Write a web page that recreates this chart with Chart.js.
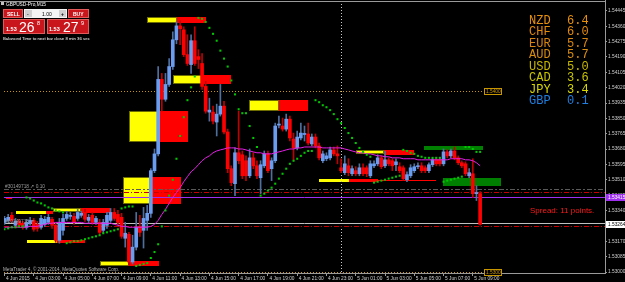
<!DOCTYPE html>
<html>
<head>
<meta charset="utf-8">
<script src="https://cdn.jsdelivr.net/npm/chart.js@4.4.1/dist/chart.umd.min.js"></script>
<style>
html, body { margin: 0; padding: 0; background: #000; overflow: hidden; }
</style>
</head>
<body>
<canvas id="chart-1" width="625" height="282" style="width:625px;height:282px"></canvas>
<script>
//////////////////////////////////////////////// data: GBPUSD M15, 4 Jun 01:00 .. 5 Jun 09:30
const opens = [
    1.53275, 1.53286, 1.53314, 1.53259, 1.53281, 1.53270, 1.53248, 1.53270, 1.53286, 1.53264,
    1.53248, 1.53264, 1.53275, 1.53292, 1.53259, 1.53176, 1.53231, 1.53297, 1.53308, 1.53308,
    1.53297, 1.53314, 1.53330, 1.53286, 1.53314, 1.53275, 1.53275, 1.53231, 1.53259, 1.53286,
    1.53330, 1.53319, 1.53303, 1.53187, 1.53209, 1.53056, 1.53138, 1.53253, 1.53231, 1.53286,
    1.53325, 1.53561, 1.53654, 1.54066, 1.53956, 1.54038, 1.54137, 1.54285, 1.54362, 1.54340,
    1.54203, 1.54148, 1.54280, 1.54192, 1.54154, 1.54027, 1.53885, 1.53885, 1.53830, 1.53874,
    1.53918, 1.53775, 1.53572, 1.53489, 1.53660, 1.53649, 1.53616, 1.53533, 1.53632, 1.53588,
    1.53522, 1.53588, 1.53654, 1.53572, 1.53616, 1.53813, 1.53808, 1.53791, 1.53846, 1.53736,
    1.53687, 1.53742, 1.53761, 1.53764, 1.53709, 1.53747, 1.53698, 1.53616, 1.53627, 1.53632,
    1.53676, 1.53654, 1.53577, 1.53550, 1.53588, 1.53544, 1.53561, 1.53544, 1.53577, 1.53577,
    1.53533, 1.53588, 1.53599, 1.53632, 1.53588, 1.53621, 1.53616, 1.53594, 1.53583, 1.53577,
    1.53511, 1.53533, 1.53561, 1.53583, 1.53588, 1.53577, 1.53561, 1.53594, 1.53621, 1.53621,
    1.53599, 1.53665, 1.53643, 1.53670, 1.53632, 1.53605, 1.53599, 1.53533, 1.53544, 1.53434,
    1.53434
]
const highs = [
    1.53308, 1.53319, 1.53330, 1.53297, 1.53292, 1.53281, 1.53292, 1.53303, 1.53297, 1.53281,
    1.53314, 1.53308, 1.53319, 1.53303, 1.53270, 1.53297, 1.53319, 1.53336, 1.53330, 1.53325,
    1.53347, 1.53336, 1.53347, 1.53319, 1.53330, 1.53308, 1.53292, 1.53292, 1.53330, 1.53352,
    1.53352, 1.53341, 1.53325, 1.53275, 1.53220, 1.53204, 1.53330, 1.53314, 1.53358, 1.53369,
    1.53572, 1.53681, 1.54137, 1.54099, 1.54099, 1.54181, 1.54329, 1.54384, 1.54390, 1.54357,
    1.54313, 1.54313, 1.54357, 1.54230, 1.54209, 1.54055, 1.53962, 1.53918, 1.53929, 1.54038,
    1.53945, 1.53791, 1.53588, 1.53687, 1.53890, 1.53670, 1.53643, 1.53681, 1.53660, 1.53616,
    1.53616, 1.53670, 1.53670, 1.53632, 1.53824, 1.53863, 1.53852, 1.53874, 1.53863, 1.53769,
    1.53780, 1.53824, 1.53808, 1.53824, 1.53764, 1.53764, 1.53714, 1.53670, 1.53660, 1.53692,
    1.53692, 1.53698, 1.53627, 1.53643, 1.53627, 1.53588, 1.53583, 1.53599, 1.53599, 1.53588,
    1.53616, 1.53616, 1.53649, 1.53643, 1.53670, 1.53632, 1.53627, 1.53627, 1.53605, 1.53588,
    1.53555, 1.53594, 1.53599, 1.53605, 1.53605, 1.53588, 1.53605, 1.53632, 1.53632, 1.53632,
    1.53681, 1.53676, 1.53681, 1.53692, 1.53643, 1.53616, 1.53610, 1.53572, 1.53627, 1.53478,
    1.53445
]
const lows = [
    1.53264, 1.53275, 1.53275, 1.53248, 1.53248, 1.53237, 1.53237, 1.53259, 1.53226, 1.53226,
    1.53237, 1.53253, 1.53264, 1.53242, 1.53165, 1.53160, 1.53204, 1.53286, 1.53292, 1.53264,
    1.53286, 1.53303, 1.53281, 1.53270, 1.53264, 1.53264, 1.53204, 1.53215, 1.53242, 1.53275,
    1.53286, 1.53259, 1.53187, 1.53138, 1.53039, 1.53045, 1.53122, 1.53198, 1.53133, 1.53231,
    1.53303, 1.53550, 1.53643, 1.53890, 1.53945, 1.54027, 1.54121, 1.54263, 1.54258, 1.54192,
    1.54143, 1.54099, 1.54143, 1.54126, 1.54011, 1.53879, 1.53835, 1.53819, 1.53753, 1.53863,
    1.53764, 1.53550, 1.53478, 1.53423, 1.53599, 1.53517, 1.53506, 1.53522, 1.53572, 1.53517,
    1.53434, 1.53577, 1.53550, 1.53506, 1.53605, 1.53797, 1.53780, 1.53780, 1.53725, 1.53616,
    1.53676, 1.53731, 1.53725, 1.53703, 1.53698, 1.53687, 1.53621, 1.53605, 1.53616, 1.53621,
    1.53643, 1.53599, 1.53550, 1.53539, 1.53533, 1.53533, 1.53533, 1.53533, 1.53533, 1.53528,
    1.53522, 1.53577, 1.53588, 1.53572, 1.53577, 1.53588, 1.53561, 1.53561, 1.53550, 1.53506,
    1.53500, 1.53522, 1.53550, 1.53572, 1.53550, 1.53550, 1.53550, 1.53583, 1.53588, 1.53588,
    1.53588, 1.53632, 1.53632, 1.53621, 1.53594, 1.53577, 1.53533, 1.53522, 1.53413, 1.53396,
    1.53259
]
const closes = [
    1.53297, 1.53303, 1.53286, 1.53281, 1.53259, 1.53248, 1.53275, 1.53286, 1.53237, 1.53242,
    1.53297, 1.53292, 1.53303, 1.53259, 1.53176, 1.53275, 1.53297, 1.53319, 1.53314, 1.53275,
    1.53330, 1.53325, 1.53292, 1.53303, 1.53275, 1.53297, 1.53220, 1.53275, 1.53314, 1.53330,
    1.53297, 1.53275, 1.53198, 1.53215, 1.53056, 1.53138, 1.53248, 1.53220, 1.53297, 1.53325,
    1.53561, 1.53654, 1.54066, 1.53956, 1.54038, 1.54137, 1.54285, 1.54362, 1.54346, 1.54203,
    1.54154, 1.54280, 1.54154, 1.54176, 1.54027, 1.53890, 1.53896, 1.53835, 1.53874, 1.53918,
    1.53775, 1.53572, 1.53495, 1.53660, 1.53616, 1.53533, 1.53533, 1.53632, 1.53588, 1.53533,
    1.53594, 1.53654, 1.53561, 1.53616, 1.53808, 1.53819, 1.53791, 1.53846, 1.53742, 1.53687,
    1.53747, 1.53769, 1.53767, 1.53714, 1.53747, 1.53698, 1.53632, 1.53654, 1.53643, 1.53676,
    1.53654, 1.53643, 1.53561, 1.53599, 1.53550, 1.53572, 1.53544, 1.53577, 1.53544, 1.53544,
    1.53599, 1.53599, 1.53632, 1.53583, 1.53621, 1.53599, 1.53588, 1.53610, 1.53561, 1.53517,
    1.53539, 1.53577, 1.53583, 1.53588, 1.53561, 1.53561, 1.53594, 1.53621, 1.53599, 1.53599,
    1.53665, 1.53643, 1.53670, 1.53632, 1.53605, 1.53588, 1.53544, 1.53550, 1.53434, 1.53440,
    1.53264
]
// moving average (magenta)
const maValues = [
    1.53248, 1.53248, 1.53248, 1.53248, 1.53248, 1.53248, 1.53248, 1.53253, 1.53253, 1.53253,
    1.53259, 1.53264, 1.53270, 1.53270, 1.53275, 1.53275, 1.53275, 1.53275, 1.53275, 1.53275,
    1.53275, 1.53275, 1.53270, 1.53270, 1.53270, 1.53270, 1.53270, 1.53270, 1.53270, 1.53270,
    1.53264, 1.53259, 1.53253, 1.53253, 1.53248, 1.53248, 1.53248, 1.53248, 1.53248, 1.53248,
    1.53253, 1.53264, 1.53286, 1.53319, 1.53347, 1.53380, 1.53413, 1.53440, 1.53467, 1.53500,
    1.53528, 1.53555, 1.53572, 1.53594, 1.53616, 1.53632, 1.53643, 1.53660, 1.53670, 1.53676,
    1.53681, 1.53687, 1.53687, 1.53687, 1.53681, 1.53681, 1.53676, 1.53670, 1.53665, 1.53660,
    1.53660, 1.53654, 1.53654, 1.53654, 1.53660, 1.53665, 1.53670, 1.53676, 1.53681, 1.53681,
    1.53687, 1.53687, 1.53692, 1.53692, 1.53692, 1.53692, 1.53692, 1.53687, 1.53687, 1.53687,
    1.53687, 1.53687, 1.53687, 1.53681, 1.53676, 1.53670, 1.53665, 1.53660, 1.53660, 1.53654,
    1.53654, 1.53649, 1.53643, 1.53643, 1.53638, 1.53638, 1.53632, 1.53632, 1.53632, 1.53627,
    1.53627, 1.53627, 1.53627, 1.53621, 1.53621, 1.53621, 1.53621, 1.53621, 1.53621, 1.53621,
    1.53621, 1.53621, 1.53627, 1.53627, 1.53627, 1.53627, 1.53621, 1.53621, 1.53616, 1.53605,
    1.53588
]
// parabolic SAR (green dots)
const sarValues = [
    1.53237, 1.53242, 1.53248, 1.53248, 1.53253, 1.53253, 1.53413, 1.53407, 1.53396, 1.53385,
    1.53380, 1.53369, 1.53358, 1.53352, 1.53341, 1.53336, 1.53330, 1.53160, 1.53165, 1.53171,
    1.53171, 1.53176, 1.53182, 1.53187, 1.53193, 1.53198, 1.53204, 1.53215, 1.53220, 1.53226,
    1.53231, 1.53237, 1.53352, 1.53358, 1.53363, 1.53363, 1.53034, 1.53039, 1.53045, 1.53050,
    1.53078, 1.53111, 1.53154, 1.53253, 1.53341, 1.53423, 1.53511, 1.53627, 1.53753, 1.53857,
    1.53951, 1.54022, 1.54082, 1.54406, 1.54401, 1.54384, 1.54351, 1.54318, 1.54280, 1.54225,
    1.54181, 1.54137, 1.54060, 1.53983, 1.53901, 1.53879, 1.53879, 1.53808, 1.53742, 1.53692,
    1.53423, 1.53434, 1.53451, 1.53467, 1.53489, 1.53517, 1.53544, 1.53572, 1.53599, 1.53616,
    1.53627, 1.53643, 1.53660, 1.53670, 1.53670, 1.53951, 1.53940, 1.53923, 1.53912, 1.53896,
    1.53874, 1.53846, 1.53824, 1.53797, 1.53769, 1.53742, 1.53714, 1.53687, 1.53665, 1.53649,
    1.53638, 1.53495, 1.53500, 1.53506, 1.53511, 1.53517, 1.53522, 1.53528, 1.53533, 1.53676,
    1.53670, 1.53660, 1.53654, 1.53643, 1.53638, 1.53632, 1.53632, 1.53632, 1.53632, 1.53632,
    1.53500, 1.53506, 1.53511, 1.53517, 1.53522, 1.53528, 1.53692, 1.53692, 1.53681, 1.53665,
    1.53665
]
timeLabels = ['4 Jun 2015', '4 Jun 03:00', '4 Jun 05:00', '4 Jun 07:00', '4 Jun 09:00', '4 Jun 11:00',
    '4 Jun 13:00', '4 Jun 15:00', '4 Jun 17:00', '4 Jun 19:00', '4 Jun 21:00', '4 Jun 23:00',
    '5 Jun 01:00', '5 Jun 03:00', '5 Jun 05:00', '5 Jun 07:00', '5 Jun 09:00']
priceTicks = [1.53000, 1.53085, 1.53170, 1.53255, 1.53340, 1.53425, 1.53510, 1.53595, 1.53680,
    1.53765, 1.53850, 1.53935, 1.54020, 1.54105, 1.54190, 1.54275, 1.54360, 1.54445]

// supply / demand zones (bar index from..to, price high..low, kind)
zoneFrom = [38.96, 47.11, 46.02, 53.9, 34.08, 41.95, 66.93, 75.07, 32.45, 40.05, 95.98, 103.86, 114.7, 119.9,
    85.9, 94.1, 101.95, 3.12, 11.27, 13.17, 21.04, 6.1, 14.25, 26.2, 34.08, 0.41]
zoneTo = [47.11, 55.0, 53.9, 62.04, 41.95, 50.1, 75.07, 82.95, 40.05, 48.2, 103.86, 112.0, 130.7, 135.6,
    94.1, 101.95, 118.0, 11.27, 13.17, 21.04, 28.9, 14.25, 22.13, 34.08, 42.22, 2.04]
zoneHigh = [1.54412, 1.54412, 1.54093, 1.54093, 1.53890, 1.53890, 1.53951, 1.53951, 1.53528, 1.53528,
    1.53676, 1.53676, 1.53698, 1.53522, 1.53517, 1.53517, 1.53511, 1.53336, 1.53336, 1.53352, 1.53352,
    1.53176, 1.53176, 1.53061, 1.53061, 1.53413]
zoneLow = [1.54379, 1.54379, 1.54038, 1.54038, 1.53720, 1.53720, 1.53890, 1.53890, 1.53374, 1.53374,
    1.53654, 1.53649, 1.53676, 1.53478, 1.53500, 1.53500, 1.53506, 1.53319, 1.53319, 1.53330, 1.53325,
    1.53160, 1.53160, 1.53034, 1.53034, 1.53402]
zoneKind = ['y', 'r', 'y', 'r', 'y', 'r', 'y', 'r', 'y', 'r', 'y', 'r', 'g', 'g',
    'y', 'r', 'r', 'y', 'r', 'y', 'r', 'y', 'r', 'y', 'r', 'r']

// horizontal objects
orderLevels = [1.53462, 1.53270]
stopLevels = [1.53445, 1.53256]
purpleLevel = 1.53415
textLevels = [1.54000, 1.53000]
textLevelNames = ['1.5400', '1.5300']
daySeparator = 92

currencies = ['NZD', 'CHF', 'EUR', 'AUD', 'USD', 'CAD', 'JPY', 'GBP']
strength = ['6.4', '6.0', '5.7', '5.7', '5.0', '3.6', '3.4', '0.1']
strengthColors = ['#e8900c', '#e48a0c', '#d88410', '#d88c10', '#c8b800', '#c8c400', '#d8d800', '#1e7fe0']


//////////////////////////////////////////////// helpers
const idx = opens.map((v, n) => n)
const isBull = n => closes[n] > opens[n]
const tinyFont = '4.8px "Liberation Sans"'

function dashLine(c, x0, x1, y, color, dash) {
    c.strokeStyle = color
    c.lineWidth = 1
    c.setLineDash(dash)
    c.beginPath()
    c.moveTo(x0, Math.round(y) + 0.5)
    c.lineTo(x1, Math.round(y) + 0.5)
    c.stroke()
    c.setLineDash([])
}

const background = {
    id: 'background',
    beforeDraw(chart) {
        const c = chart.ctx
        c.save()
        c.fillStyle = '#000000'
        c.fillRect(0, 0, chart.width, chart.height)
        c.restore()
    }
}

const objects = {
    id: 'objects',
    beforeDatasetsDraw(chart) {
        const c = chart.ctx, a = chart.chartArea
        const xs = chart.scales.x, ys = chart.scales.y
        c.save()
        c.beginPath()
        c.rect(a.left, a.top, a.right - a.left, a.bottom - a.top)
        c.clip()

        // zones
        const fills = { y: '#ffff00', r: '#ff0000', g: '#008000' }
        zoneKind.forEach((k, i) => {
            const x0 = Math.round(xs.getPixelForValue(zoneFrom[i]))
            const x1 = Math.round(xs.getPixelForValue(zoneTo[i]))
            const y0 = Math.round(ys.getPixelForValue(zoneHigh[i]))
            const y1 = Math.max(Math.round(ys.getPixelForValue(zoneLow[i])), y0 + 1)
            c.fillStyle = fills[k]
            c.fillRect(x0, y0, x1 - x0, y1 - y0)
            if (k === 'y' && y1 - y0 > 3) {
                c.strokeStyle = '#6e6e00'
                c.lineWidth = 1
                c.strokeRect(x0 + 0.5, y0 + 0.5, x1 - x0 - 1, y1 - y0 - 1)
            }
        })

        // day separator
        const xd = Math.round(xs.getPixelForValue(daySeparator)) + 0.5
        c.strokeStyle = '#c8c8c8'
        c.setLineDash([1, 2])
        c.beginPath()
        c.moveTo(xd, a.top)
        c.lineTo(xd, a.bottom)
        c.stroke()
        c.setLineDash([])

        // text levels (orange dotted)
        textLevels.forEach(v => {
            dashLine(c, a.left, xs.getPixelForValue(131), ys.getPixelForValue(v), '#c89600', [1, 2])
        })

        // order lines
        dashLine(c, a.left, a.right, ys.getPixelForValue(orderLevels[0]), '#5a5a5a', [5, 2, 2, 2])
        dashLine(c, a.left, a.right, ys.getPixelForValue(orderLevels[1]), '#c0c0c0', [])
        stopLevels.forEach(v => dashLine(c, a.left, a.right, ys.getPixelForValue(v), '#c80000', [5, 2, 1, 2]))
        dashLine(c, a.left, a.right, ys.getPixelForValue(purpleLevel), '#a030f0', [])

        c.restore()
    },
    afterDraw(chart) {
        const c = chart.ctx, a = chart.chartArea
        const xs = chart.scales.x, ys = chart.scales.y
        c.save()

        // frame
        c.fillStyle = '#9a9a9a'
        c.fillRect(0, 1, a.right, 1)
        c.fillRect(a.right, 0, 1, a.bottom + 1)

        // text level tags
        c.font = tinyFont
        c.textBaseline = 'middle'
        c.textAlign = 'left'
        textLevels.forEach((v, i) => {
            const y = Math.round(ys.getPixelForValue(v))
            const x0 = Math.round(xs.getPixelForValue(131))
            c.fillStyle = '#000'
            c.fillRect(x0, y - 3, 18, 7)
            c.strokeStyle = '#c89600'
            c.strokeRect(x0 + 0.5, y - 2.5, 17, 6)
            c.fillStyle = '#c89600'
            c.fillText(textLevelNames[i], x0 + 2, y + 0.5)
        })

        // order labels
        c.fillStyle = '#9a9a9a'
        c.fillText('#30149718 ↗ 0.10', 5, ys.getPixelForValue(orderLevels[0]) - 2)
        c.fillText('#30149718 ↗', 5, ys.getPixelForValue(orderLevels[1]) - 2)

        // axis tags
        const tag = (v, bg, fg) => {
            const y = Math.round(ys.getPixelForValue(v))
            c.fillStyle = bg
            c.fillRect(a.right + 1, y - 3, 20, 7)
            c.fillStyle = fg
            c.fillText(v.toFixed(5), a.right + 3, y + 0.5)
        }
        tag(purpleLevel, '#a030f0', '#ffffff')
        tag(closes[closes.length - 1], '#ffffff', '#000000')

        // currency strength
        c.font = '12px "Liberation Mono"'
        c.textBaseline = 'alphabetic'
        currencies.forEach((cur, i) => {
            c.fillStyle = strengthColors[i]
            c.fillText(cur, 529, 24 + i * 11.43)
            c.fillText(strength[i], 567, 24 + i * 11.43)
        })

        // spread
        c.font = '8px "Liberation Sans"'
        c.fillStyle = '#ff1a1a'
        c.fillText('Spread: 11 points.', 530, 213)

        // copyright
        c.font = '4.6px "Liberation Sans"'
        c.fillStyle = '#b4b4b4'
        c.fillText('MetaTrader 4, © 2001-2014, MetaQuotes Software Corp.', 3, 271)

        // one click trading panel
        c.fillStyle = '#c0c0c0'
        c.fillRect(1, 2, 3, 3)
        c.fillStyle = '#ffffff'
        c.font = '4.8px "Liberation Sans"'
        c.fillText('GBPUSD-Pro,M15', 6, 6)

        const redBox = (x, y, w, h) => {
            c.fillStyle = '#c8161c'
            c.fillRect(x, y, w, h)
            c.strokeStyle = '#e25a5a'
            c.strokeRect(x + 0.5, y + 0.5, w - 1, h - 1)
        }
        redBox(3, 9, 20, 9)
        redBox(68, 9, 21, 9)
        c.fillStyle = '#f4f4f4'
        c.fillRect(24, 9, 43, 9)
        c.fillStyle = '#d0d0d0'
        c.fillRect(25, 10, 7, 7)
        c.fillRect(59, 10, 7, 7)
        c.fillStyle = '#ffffff'
        c.font = 'bold 5px "Liberation Sans"'
        c.fillText('SELL', 7, 15.5)
        c.fillText('BUY', 73, 15.5)
        c.fillStyle = '#000000'
        c.fillText('-', 27, 15.5)
        c.fillText('+', 61, 15.5)
        c.font = '5px "Liberation Sans"'
        c.fillText('1.00', 42, 15.5)

        redBox(3, 19, 42, 15)
        redBox(47, 19, 42, 15)
        c.fillStyle = '#ffffff'
        c.font = 'bold 5.5px "Liberation Sans"'
        c.fillText('1.53', 6, 31)
        c.fillText('1.53', 49, 31)
        c.font = '14px "Liberation Sans"'
        c.fillText('26', 19, 32)
        c.fillText('27', 63, 32)
        c.font = '5.5px "Liberation Sans"'
        c.fillText('8', 37, 24.5)
        c.fillText('9', 81, 24.5)
        c.font = '4.3px "Liberation Sans"'
        c.fillText('Balanced Time to next bar close 8 min 36 sec', 3, 39.5)

        c.restore()
    }
}


//////////////////////////////////////////////// chart
const ctx1 = document.getElementById('chart-1');

new Chart(ctx1, {
    type: 'bar',
    data: {
        datasets: [{
            type: 'line',
            data: idx.map(n => ({ x: n, y: sarValues[n] })),
            showLine: false,
            pointStyle: 'rect',
            pointRadius: 1.45,
            pointBorderWidth: 0,
            pointBackgroundColor: '#00c800',
            order: 0
        }, {
            type: 'line',
            data: idx.map(n => ({ x: n, y: maValues[n] })),
            borderColor: '#e61ee6',
            borderWidth: 1,
            pointRadius: 0,
            tension: 0,
            order: 1
        }, {
            data: idx.map(n => ({ x: n, y: [opens[n], closes[n]] })),
            backgroundColor: idx.map(n => isBull(n) ? '#6a9cf0' : '#ff0000'),
            barThickness: 3,
            minBarLength: 1,
            grouped: false,
            order: 2
        }, {
            data: idx.map(n => ({ x: n, y: [lows[n], highs[n]] })),
            backgroundColor: idx.map(n => isBull(n) ? '#4f6f9f' : '#c00000'),
            barThickness: 1,
            grouped: false,
            order: 3
        }]
    },
    options: {
        responsive: false,
        animation: false,
        layout: { padding: { top: 2, left: 0, right: 0, bottom: 0 } },
        plugins: {
            legend: { display: false },
            tooltip: { enabled: false }
        },
        scales: {
            x: {
                type: 'linear',
                position: 'bottom',
                offset: false,
                min: -0.136,
                max: 164.13,
                afterBuildTicks: s => { s.ticks = timeLabels.map((t, k) => ({ value: k * 8 })) },
                afterFit: s => { s.height = 9; s.paddingLeft = 0; s.paddingRight = 0 },
                ticks: {
                    autoSkip: false,
                    maxRotation: 0,
                    align: 'start',
                    labelOffset: 1.5,
                    padding: 0,
                    color: '#cfcfcf',
                    font: { family: 'Liberation Sans', size: 4.8 },
                    callback: v => timeLabels[Math.round(v / 8)]
                },
                grid: { offset: false, drawOnChartArea: false, tickLength: 3, color: '#9a9a9a' },
                border: { color: '#9a9a9a' }
            },
            y: {
                position: 'right',
                min: 1.52995,
                max: 1.54483,
                afterBuildTicks: s => { s.ticks = priceTicks.map(v => ({ value: v })) },
                afterFit: s => { s.width = 20; s.paddingTop = 0; s.paddingBottom = 0 },
                ticks: {
                    autoSkip: false,
                    padding: 1,
                    color: '#cfcfcf',
                    font: { family: 'Liberation Sans', size: 4.8 },
                    callback: v => v.toFixed(5)
                },
                grid: { drawOnChartArea: false, tickLength: 2, color: '#9a9a9a' },
                border: { color: '#9a9a9a' }
            }
        }
    },
    plugins: [background, objects]
});
</script>
</body>
</html>
